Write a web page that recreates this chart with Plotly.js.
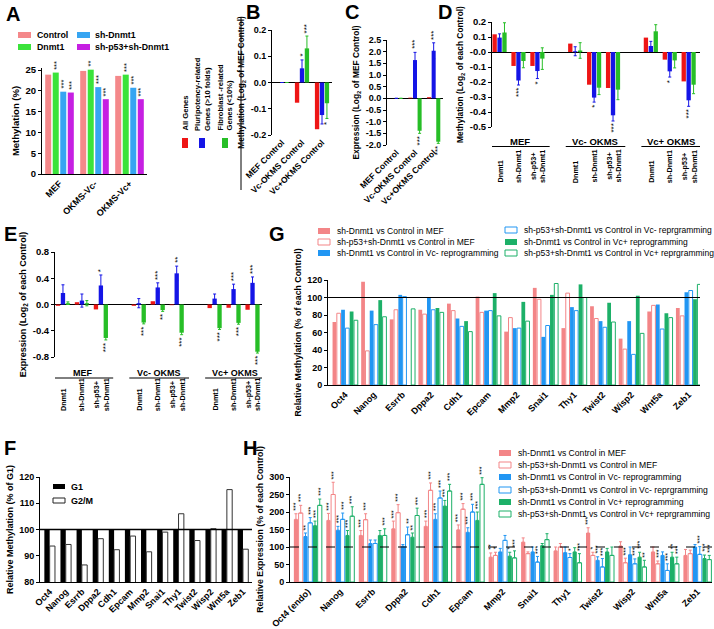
<!DOCTYPE html>
<html><head><meta charset="utf-8">
<script src="https://cdn.plot.ly/plotly-3.0.1.min.js"></script>
<style>html,body{margin:0;padding:0;background:#fff;}#chart{width:714px;height:629px;}</style>
</head><body><div id="chart"></div>
<script>
// ================= DATA =================
// Panel A
const A_groups = ['MEF','OKMS-Vc-','OKMS-Vc+'];
const A_names = ['Control','Dnmt1','sh-Dnmt1','sh-p53+sh-Dnmt1'];
const A_control = [23.9, 24.8, 23.6];
const A_dnmt1 = [24.4, 25.1, 23.9];
const A_shDnmt1 = [19.8, 20.9, 20.75];
const A_shp53 = [19.6, 18.0, 18.0];
const A_control_sig = ['', '', ''];
const A_dnmt1_sig = ['***', '**', '***'];
const A_shDnmt1_sig = ['***', '***', '***'];
const A_shp53_sig = ['***', '***', '***'];

// Panels B, C
const BC_names = ['All Genes', 'Pluripotency-related<br>Genes (>10 folds)', 'Fibroblast -related<br>Genes (<10%)'];
const BC_cats = ['MEF Control', 'Vc-OKMS Control', 'Vc+OKMS Control'];
const B_all = [0, -0.077, -0.178];
const B_pluri = [0, 0.054, -0.124];
const B_pluri_err = [0, 0.032, 0.034];
const B_pluri_sig = ['', '*', ''];
const B_fibro = [0, 0.13, -0.079];
const B_fibro_err = [0, 0.047, 0.058];
const B_fibro_sig = ['', '***', '*'];
const C_all = [0, 0.03, 0.05];
const C_pluri = [0, 1.64, 2.04];
const C_pluri_err = [0, 0.33, 0.34];
const C_pluri_sig = ['', '***', '***'];
const C_fibro = [0, -1.39, -1.86];
const C_fibro_err = [0, 0.11, 0.07];
const C_fibro_sig = ['', '***', '***'];

// Panels D, E
const DE_groups = ['MEF', 'Vc- OKMS', 'Vc+ OKMS'];
const DE_conditions = ['Dnmt1', 'sh-Dnmt1', 'sh-p53+<br>sh-Dnmt1'];
const DE_pos = [0, 1, 2, 4, 5, 6, 8, 9, 10];
const D_all = [0.118, -0.093, -0.093, 0.056, -0.218, -0.24, 0.096, -0.051, -0.196];
const D_pluri = [0.096, -0.19, -0.127, 0.005, -0.304, -0.422, 0.04, -0.129, -0.322];
const D_pluri_err = [0.025, 0.03, 0.05, 0.03, 0.03, 0.038, 0.031, 0.038, 0.04];
const D_pluri_sig = ['', '***', '*', '', '*', '***', '', '*', '***'];
const D_fibro = [0.13, -0.06, -0.044, 0.01, -0.238, -0.251, 0.138, -0.056, -0.218];
const D_fibro_err = [0.065, 0.045, 0.072, 0.052, 0.046, 0.067, 0.044, 0.05, 0.06];
const E_all = [-0.02, 0.035, -0.075, -0.02, 0.05, -0.01, -0.055, -0.05, -0.08];
const E_pluri = [0.175, 0.06, 0.29, 0.02, 0.26, 0.475, 0.09, 0.235, 0.33];
const E_pluri_err = [0.125, 0.1, 0.16, 0.07, 0.07, 0.11, 0.07, 0.075, 0.09];
const E_pluri_sig = ['', '', '*', '', '***', '**', '', '***', '***'];
const E_fibro = [0.02, 0.02, -0.51, -0.275, -0.085, -0.43, -0.36, -0.28, -0.72];
const E_fibro_err = [0.02, 0.04, 0.03, 0.02, 0.02, 0.03, 0.02, 0.02, 0.02];
const E_fibro_sig = ['', '', '***', '***', '**', '***', '***', '***', '***'];

// Panel F
const F_genes = ['Oct4','Nanog','Esrrb','Dppa2','Cdh1','Epcam','Mmp2','Snai1','Thy1','Twist2','Wisp2','Wnt5a','Zeb1'];
const F_G1 = [100,100,100,100,100,100,100,100,100,100,100,100,100];
const F_G2M = [93.7, 94.3, 86.5, 96.5, 92.3, 97.5, 91.5, 99, 106, 95.8, 100.3, 115.2, 92.5];
const F_ref = 100;

// Panel G / H series names
const GH_names = [
  'sh-Dnmt1 vs Control in MEF',
  'sh-p53+sh-Dnmt1 vs Control in MEF',
  'sh-Dnmt1 vs Control in Vc- reprogramming',
  'sh-p53+sh-Dnmt1 vs Control in Vc- reprgramming',
  'sh-Dnmt1 vs Control in Vc+ reprogramming',
  'sh-p53+sh-Dnmt1 vs Control in Vc+ reprgramming'];

// Panel G
const G_genes = ['Oct4','Nanog','Esrrb','Dppa2','Cdh1','Epcam','Mmp2','Snai1','Thy1','Twist2','Wisp2','Wnt5a','Zeb1'];
const G_s1 = [72, 118, 75, 86, 93, 101, 61, 111, 65, 90, 53, 84, 88];
const G_s2 = [82, 39, 86, 81, 85, 83, 77, 98, 105, 76, 41, 91, 79];
const G_s3 = [86, 85, 103, 100, 76, 85, 65, 55, 89, 73, 73, 92, 106];
const G_s4 = [65, 69, 101, 86, 67, 85, 65, 68, 85, 66, 35, 64, 108];
const G_s5 = [84, 97, null, 88, 73, 105, 95, 103, 115, 94, 102, 82, 98];
const G_s6 = [74, 78, 87, 83, 61, 79, 73, 116, 100, 72, 59, 77, 115];
const G_ref = 100;

// Panel H
const H_genes = ['Oct4 (endo)','Nanog','Esrrb','Dppa2','Cdh1','Epcam','Mmp2','Snai1','Thy1','Twist2','Wisp2','Wnt5a','Zeb1'];
const H_s1 = [179, 176, 133, 152, 159, 149, 71, 114, 89, 140, 103, 86, 76];
const H_s1_err = [16, 20, 14, 22, 15, 14, 12, 12, 11, 15, 12, 14, 17];
const H_s1_sig = ['***','***','***','***','***','***','**','','','***','','',''];
const H_s2 = [197, 250, 178, 198, 262, 208, 76, 81, 100, 76, 55, 52, 81];
const H_s2_err = [22, 35, 17, 23, 21, 16, 9, 5, 10, 9, 13, 8, 10];
const H_s2_sig = ['***','***','***','***','***','***','*','','','*','***','***',''];
const H_s3 = [130, 148, 110, 102, 179, 142, 86, 86, 84, 62, 78, 76, 100];
const H_s3_err = [10, 11, 10, 5, 16, 13, 10, 14, 16, 10, 22, 10, 7];
const H_s3_sig = ['**','***','','','***','***','','','','***','','',''];
const H_s4 = [169, 179, 110, 135, 240, 200, 119, 57, 70, 43, 52, 33, 79];
const H_s4_err = [15, 18, 10, 22, 20, 22, 14, 16, 11, 24, 14, 19, 22];
const H_s4_sig = ['***','***','','**','***','***','','***','*','***','***','***','***'];
const H_s5 = [161, 133, 133, 128, 217, 176, 74, 104, 86, 86, 71, 71, 67];
const H_s5_err = [13, 14, 14, 12, 16, 24, 11, 6, 12, 10, 14, 14, 10];
const H_s5_sig = ['***','***','','**','***','***','*','','','','***','**','***'];
const H_s6 = [219, 188, 133, 190, 260, 279, 69, 121, 55, 76, 43, 52, 64];
const H_s6_err = [18, 27, 19, 21, 19, 19, 20, 17, 26, 24, 19, 19, 12];
const H_s6_sig = ['***','***','***','***','***','***','***','','***','','**','***','***'];
const H_ref = 100;

// ================= DRAWING =================
const FONT = 'Liberation Sans, Arial, Helvetica, sans-serif';
const W = 714, HGT = 629;
const X = p => p / W, Y = p => 1 - p / HGT;
const traces = [], annotations = [], shapes = [];
const K = k => (k === 1 ? '' : String(k));
function fnt(size, bold, color) { const f = {family: FONT, size: size, color: color || '#000'}; if (bold) f.weight = 'bold'; return f; }

function geom(n, total, gap) {
  const slot = total / n, w = slot * (1 - gap);
  return Array.from({length: n}, (_, i) => ({w: w, off: -total / 2 + i * slot + slot * gap / 2}));
}

function addBars(k, xs, ys, g, color, o) {
  o = o || {};
  const t = {type: 'bar', x: xs, y: ys, xaxis: 'x' + K(k), yaxis: 'y' + K(k), width: g.w, offset: g.off,
    marker: {color: o.open ? '#ffffff' : color, line: {color: o.lineColor || color, width: o.open ? (o.lw || 1) : 0}},
    hoverinfo: 'skip', showlegend: false};
  if (o.err) {
    t.error_y = o.oneSided
      ? {type: 'data', symmetric: false, array: o.err, arrayminus: o.err.map(() => 0), color: o.lineColor || color, thickness: 1, width: 1.5}
      : {type: 'data', array: o.err, color: o.lineColor || color, thickness: 1, width: 1.5};
  }
  traces.push(t);
  if (o.sig) {
    const pos = typeof xs[0] === 'number' ? xs : xs.map((_, i) => i);
    o.sig.forEach((s, i) => {
      if (!s || ys[i] == null) return;
      const v = ys[i], e = o.err ? o.err[i] : 0;
      const up = v >= 0;
      annotations.push({xref: 'x' + K(k), yref: 'y' + K(k), x: pos[i] + g.off + g.w / 2,
        y: up ? v + e : v - e, text: s, showarrow: false, textangle: -90,
        font: fnt(o.sigSize || 8, false), xanchor: 'center', yanchor: up ? 'bottom' : 'top', yshift: up ? 1 : -1});
    });
  }
}

function txt(text, px, py, o) {
  annotations.push(Object.assign({xref: 'paper', yref: 'paper', x: X(px), y: Y(py), text: text, showarrow: false,
    font: fnt(9, true), xanchor: 'left', yanchor: 'middle'}, o || {}));
}
function rect(x0, y0, x1, y1, fill, line) {
  shapes.push({type: 'rect', xref: 'paper', yref: 'paper', x0: X(x0), x1: X(x1), y0: Y(y1), y1: Y(y0),
    fillcolor: fill, line: {color: line || fill, width: line ? 1 : 0}});
}

function yAx(top, bot, anchor, range, tickvals, ticktext, title, fs, tfs, extra) {
  return Object.assign({domain: [Y(bot), Y(top)], anchor: anchor, range: range, tickvals: tickvals, ticktext: ticktext,
    showgrid: false, zeroline: false, showline: true, linecolor: '#000', linewidth: 1, ticks: 'outside', ticklen: 3,
    tickwidth: 1, tickcolor: '#000', tickfont: fnt(fs, true),
    title: {text: title, font: fnt(tfs, true), standoff: 4}, automargin: false, fixedrange: true}, extra || {});
}
function xAx(l, r, anchor, range, fs, extra) {
  return Object.assign({domain: [X(l), X(r)], anchor: anchor, range: range, showgrid: false, zeroline: false,
    showline: true, linecolor: '#000', linewidth: 1, ticks: '', tickfont: fnt(fs, true), automargin: false,
    fixedrange: true}, extra || {});
}

// ---------- A ----------
const A_col = ['#F4888A', '#3BE33B', '#36A5F2', '#C61FE2'];
const gA = geom(4, 0.86, 0.2);
[[A_control, A_control_sig], [A_dnmt1, A_dnmt1_sig], [A_shDnmt1, A_shDnmt1_sig], [A_shp53, A_shp53_sig]].forEach((d, i) =>
  addBars(1, A_groups, d[0], gA[i], A_col[i], {sig: d[1], sigSize: 7.5}));
const A_leg = [[18, 35, 35], [77, 35, 93], [18, 47, 35], [77, 47, 93]];
const A_legOrder = [0, 2, 1, 3];
A_legOrder.forEach((si, j) => {
  const p = A_leg[j];
  rect(p[0], p[1] - 3, p[0] + 13, p[1] + 3, A_col[si]);
  txt(A_names[si], p[2], p[1], {font: fnt(8.8, true)});
});

// ---------- B/C legend ----------
const BC_col = ['#EE1515', '#1515E6', '#27BE27'];
const BC_legX = [185, 202, 225];
BC_names.forEach((n, i) => {
  txt(n, BC_legX[i], 133, {textangle: -90, xanchor: 'center', yanchor: 'bottom', align: 'left', font: fnt(7.6, true)});
  rect(BC_legX[i] - 3, 138, BC_legX[i] + 3, 148, BC_col[i]);
});
shapes.push({type: 'line', xref: 'paper', yref: 'paper', x0: X(241), x1: X(241), y0: Y(190), y1: Y(17), line: {color: '#000', width: 1}});

// ---------- B ----------
const gBC = geom(3, 0.74, 0.12);
addBars(2, BC_cats, B_all, gBC[0], BC_col[0]);
addBars(2, BC_cats, B_pluri, gBC[1], BC_col[1], {err: B_pluri_err, sig: B_pluri_sig});
addBars(2, BC_cats, B_fibro, gBC[2], BC_col[2], {err: B_fibro_err, sig: B_fibro_sig});
// ---------- C ----------
addBars(3, BC_cats, C_all, gBC[0], BC_col[0]);
addBars(3, BC_cats, C_pluri, gBC[1], BC_col[1], {err: C_pluri_err, sig: C_pluri_sig});
addBars(3, BC_cats, C_fibro, gBC[2], BC_col[2], {err: C_fibro_err, sig: C_fibro_sig});

// ---------- D / E ----------
const gDE = geom(3, 0.78, 0.12);
addBars(4, DE_pos, D_all, gDE[0], BC_col[0]);
addBars(4, DE_pos, D_pluri, gDE[1], BC_col[1], {err: D_pluri_err, sig: D_pluri_sig});
addBars(4, DE_pos, D_fibro, gDE[2], BC_col[2], {err: D_fibro_err});
addBars(5, DE_pos, E_all, gDE[0], BC_col[0]);
addBars(5, DE_pos, E_pluri, gDE[1], BC_col[1], {err: E_pluri_err, sig: E_pluri_sig});
addBars(5, DE_pos, E_fibro, gDE[2], BC_col[2], {err: E_fibro_err, sig: E_fibro_sig});

function groupLabels(k, textY, lineY, labBottom, gsize, lsize) {
  DE_groups.forEach((g, gi) => {
    const c0 = DE_pos[gi * 3], c1 = DE_pos[gi * 3 + 2];
    annotations.push({xref: 'x' + K(k), yref: 'paper', x: (c0 + c1) / 2 + 0.07, y: Y(textY), text: g, showarrow: false,
      font: fnt(gsize, true), xanchor: 'center', yanchor: 'middle'});
    shapes.push({type: 'line', xref: 'x' + K(k), yref: 'paper', x0: c0 - 0.5, x1: c1 + 0.65, y0: Y(lineY), y1: Y(lineY),
      line: {color: '#000', width: 1}});
  });
  DE_pos.forEach((p, i) => {
    annotations.push({xref: 'x' + K(k), yref: 'paper', x: p, y: Y(labBottom), text: DE_conditions[i % 3], showarrow: false,
      textangle: -90, font: fnt(lsize, true), xanchor: 'center', yanchor: 'bottom', align: 'center'});
  });
}
groupLabels(4, 141, 146.5, 185, 9.5, 7.2);
groupLabels(5, 372.5, 378, 413, 9, 7.2);

// ---------- F ----------
const gF = geom(2, 0.66, 0);
addBars(6, F_genes, F_G1, gF[0], '#000000');
addBars(6, F_genes, F_G2M, gF[1], '#333333', {open: true});
shapes.push({type: 'line', xref: 'x6 domain', yref: 'y6', x0: 0, x1: 1, y0: F_ref, y1: F_ref, line: {color: '#000', width: 1.5}});
rect(53, 484, 65, 489, '#000');
txt('G1', 69, 486.5, {font: fnt(9, true)});
rect(53, 498, 65, 503, '#fff', '#222');
txt('G2/M', 69, 500.5, {font: fnt(9, true)});

// ---------- G / H ----------
const GH_col = ['#F38587', '#F38587', '#2196F3', '#2196F3', '#1DB068', '#1DB068'];
const GH_open = [false, true, false, true, false, true];
const gG = geom(6, 0.9, 0.12);
[G_s1, G_s2, G_s3, G_s4, G_s5, G_s6].forEach((s, i) =>
  addBars(7, G_genes, s, gG[i], GH_col[i], {open: GH_open[i], lw: 1}));
shapes.push({type: 'line', xref: 'x7 domain', yref: 'y7', x0: 0, x1: 1, y0: G_ref, y1: G_ref, line: {color: '#000', width: 1}});

const gH = geom(6, 0.88, 0.12);
[[H_s1, H_s1_err, H_s1_sig], [H_s2, H_s2_err, H_s2_sig], [H_s3, H_s3_err, H_s3_sig],
 [H_s4, H_s4_err, H_s4_sig], [H_s5, H_s5_err, H_s5_sig], [H_s6, H_s6_err, H_s6_sig]].forEach((d, i) =>
  addBars(8, H_genes, d[0], gH[i], GH_col[i], {open: GH_open[i], lw: 1, err: d[1], oneSided: true, sig: d[2], sigSize: 7}));
shapes.push({type: 'line', xref: 'x8 domain', yref: 'y8', x0: 0, x1: 1, y0: H_ref, y1: H_ref, line: {color: '#000', width: 1, dash: 'dash'}});

function ghLegend(items, fs) {
  items.forEach(([si, sx, ty]) => {
    if (GH_open[si]) rect(sx, ty - 3, sx + 12, ty + 3, '#fff', GH_col[si]);
    else rect(sx, ty - 3, sx + 12, ty + 3, GH_col[si]);
    txt(GH_names[si], sx + 17, ty, {font: fnt(fs, false)});
  });
}
ghLegend([[0, 318, 231], [1, 318, 242], [2, 318, 253], [3, 505, 230], [4, 505, 242], [5, 505, 253]], 8.5);
ghLegend([[0, 499, 453], [1, 499, 465], [2, 499, 477], [3, 499, 490], [4, 499, 502], [5, 499, 514]], 8.6);

// ---------- Panel letters ----------
[['A', 4, 14], ['B', 244, 12], ['C', 343, 12], ['D', 436, 12], ['E', 2, 234], ['F', 2, 448], ['G', 267, 234], ['H', 241, 448]]
  .forEach(([t, x, y]) => txt(t, x, y, {font: fnt(20, true)}));

// ---------- Layout ----------
const layout = {
  width: W, height: HGT, margin: {l: 0, r: 0, t: 0, b: 0}, paper_bgcolor: '#fff', plot_bgcolor: 'rgba(0,0,0,0)',
  showlegend: false, barmode: 'overlay', font: {family: FONT, size: 9, color: '#000'},
  xaxis: xAx(42, 147, 'y', [-0.5, 2.5], 9, {type: 'category', tickangle: -45}),
  yaxis: yAx(68, 174, 'x', [0, 25.5], [0, 5, 10, 15, 20, 25], ['0', '5', '10', '15', '20', '25'], 'Methylation (%)', 9.5, 9.5),
  xaxis2: xAx(272, 332, 'y2', [-0.5, 2.5], 8.5, {type: 'category', tickangle: -45, showline: false}),
  yaxis2: yAx(30, 135, 'x2', [-0.2, 0.2], [-0.2, -0.1, 0, 0.1, 0.2], ['-0.2', '-0.1', '0.0', '0.1', '0.2'],
    'Methylation (Log<sub>2</sub> of MEF Control)', 9, 8.2, {zeroline: true, zerolinecolor: '#000', zerolinewidth: 1}),
  xaxis3: xAx(387, 443, 'y3', [-0.5, 2.5], 8.5, {type: 'category', tickangle: -45, showline: false}),
  yaxis3: yAx(40, 145, 'x3', [-2.0, 2.5], [-2, -1.5, -1, -0.5, 0, 0.5, 1, 1.5, 2, 2.5],
    ['-2.0', '-1.5', '-1.0', '-0.5', '0.0', '0.5', '1.0', '1.5', '2.0', '2.5'],
    'Expression (Log<sub>2</sub> of MEF Control)', 9, 8.4, {zeroline: true, zerolinecolor: '#000', zerolinewidth: 1}),
  xaxis4: xAx(492, 700, 'y4', [-0.4, 10.6], 9, {showline: false, showticklabels: false}),
  yaxis4: yAx(22, 127, 'x4', [-0.5, 0.2], [-0.5, -0.4, -0.3, -0.2, -0.1, 0, 0.1, 0.2],
    ['-0.5', '-0.4', '-0.3', '-0.2', '-0.1', '-0.0', '0.1', '0.2'],
    'Methylation (Log<sub>2</sub> of each Control)', 9.5, 8.4, {zeroline: true, zerolinecolor: '#000', zerolinewidth: 1}),
  xaxis5: xAx(55, 262, 'y5', [-0.42, 10.5], 9, {showline: false, showticklabels: false}),
  yaxis5: yAx(252, 357, 'x5', [-0.8, 0.8], [-0.8, -0.4, 0, 0.4, 0.8], ['-0.8', '-0.4', '0.0', '0.4', '0.8'],
    'Expression (Log<sub>2</sub> of each Control)', 9.5, 9, {zeroline: true, zerolinecolor: '#000', zerolinewidth: 1}),
  xaxis6: xAx(40, 252, 'y6', [-0.6, 12.56], 9, {type: 'category', tickangle: -45}),
  yaxis6: yAx(477, 582, 'x6', [80, 120], [80, 90, 100, 110, 120], ['80', '90', '100', '110', '120'],
    'Relative Methylation (% of G1)', 9, 9),
  xaxis7: xAx(328, 700, 'y7', [-0.6, 12.4], 9, {type: 'category', tickangle: -45}),
  yaxis7: yAx(280, 385, 'x7', [0, 120], [0, 20, 40, 60, 80, 100, 120], ['0', '20', '40', '60', '80', '100', '120'],
    'Relative Methylation (% of each Control)', 9, 8.8),
  xaxis8: xAx(290, 712, 'y8', [-0.55, 12.45], 9, {type: 'category', tickangle: -45}),
  yaxis8: yAx(477, 582, 'x8', [0, 300], [0, 50, 100, 150, 200, 250, 300], ['0', '50', '100', '150', '200', '250', '300'],
    'Relative Expression (% of each Control)', 9, 8.8),
  annotations: annotations, shapes: shapes
};
Plotly.newPlot('chart', traces, layout, {displayModeBar: false, staticPlot: true});
</script></body></html>
